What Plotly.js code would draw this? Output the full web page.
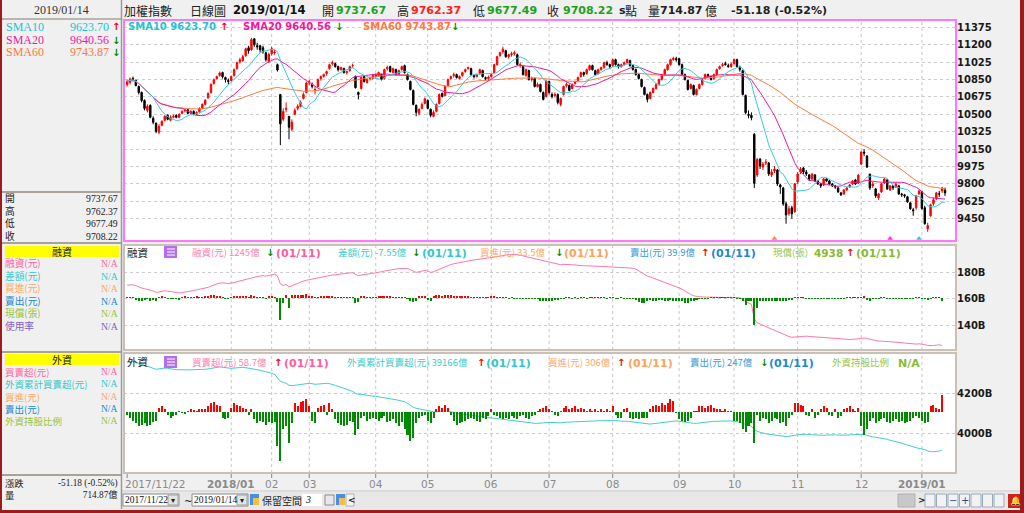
<!DOCTYPE html>
<html><head><meta charset="utf-8">
<script src="https://cdn.plot.ly/plotly-3.0.1.min.js"></script>
<style>html,body{margin:0;padding:0;background:#f0f0f0;overflow:hidden}#chart{width:1024px;height:513px}</style>
</head><body><div id="chart"></div>
<script>
// ---------- trading calendar (TWSE) ----------
const startDate = '2017-11-22', endDate = '2019-01-14';
const holidays = ['2018-01-01','2018-02-13','2018-02-14','2018-02-15','2018-02-16','2018-02-19','2018-02-20','2018-02-28',
  '2018-04-04','2018-04-05','2018-04-06','2018-05-01','2018-06-18','2018-09-24','2018-10-10','2018-12-31','2019-01-01'];
const makeupDays = ['2018-03-31','2018-12-22'];

// ---------- daily OHLC of 加權指數 ----------
const openP = [
10800,10820,10860,10840,10780,10720,10640,
10540,10590,10460,10410,10320,10390,10440,10490,10440,10470,10490,10470,10510,10535,10545,10510,10530,10500,10525,10565,10600,
10664,10720,10810,10860,10890,10920,10870,10840,10840,10890,10960,11030,11040,11090,11170,11150,11260,11190,11190,11170,11120,11030,
11110,11120,11000,10700,10450,10550,10480,10350,10500,10560,10580,10660,10720,
10820,10800,10740,10780,10860,10880,10910,10960,11010,11010,10980,10950,10960,10920,10940,10990,10880,10720,10760,10880,10820,10860,10860,
10880,10890,10900,10860,10960,10980,10920,10950,10900,10950,10990,10900,10830,10740,10590,10510,10560,10610,
10640,10550,10480,10530,10610,10710,10690,10790,10860,10890,10900,10860,10890,10930,10960,10960,10890,10880,10910,10940,10870,10860,
10880,10920,11000,11090,11130,11140,11080,11100,11110,11100,10990,10980,10890,10940,10850,10860,10780,10800,10720,10680,
10830,10700,10690,10700,10600,10700,10790,10790,10760,10810,10840,10880,10920,10910,10950,10990,10940,10910,10950,10970,11020,11000,
10990,11050,11000,10980,11000,11020,11040,10990,10950,10900,10850,10770,10700,10660,10720,10760,10800,10850,10900,10950,11000,11050,11060,
11060,11000,10900,10840,10760,10790,10700,10760,10800,10860,10900,10880,10860,10900,10960,10990,11010,10990,10980,
11010,11050,10970,10940,10690,10500,10490,10300,9890,10050,9970,10010,10010,9890,9930,9940,9790,9760,9600,9500,9560,9520,
9820,9920,9960,9920,9890,9850,9890,9830,9800,9790,9850,9830,9800,9780,9760,9710,9700,9740,9770,9800,9840,9810,
10000,10120,10080,9900,9780,9750,9660,9720,9810,9840,9740,9780,9770,9780,9700,9690,9670,9610,9540,9560,9700,
9720,9560,9350,9480,9600,9650,9700,9730,9737.67];
const highP = [
10850,10870,10880,10850,10790,10730,10650,
10600,10600,10480,10420,10400,10440,10490,10500,10490,10500,10500,10510,10540,10560,10550,10540,10540,10530,10570,10610,10650,
10720,10810,10860,10890,10930,10930,10880,10860,10890,10960,11030,11070,11100,11170,11190,11270,11265,11220,11200,11190,11130,11120,
11180,11150,11010,10700,10560,10620,10480,10450,10560,10600,10640,10720,10830,
10850,10820,10780,10860,10890,10910,10940,11010,11040,11020,10990,10980,10970,10940,10990,11010,10890,10730,10880,10890,10860,10880,10900,
10910,10930,10910,10960,10990,10990,10970,10960,10950,10990,11000,10910,10840,10750,10600,10560,10620,10670,
10650,10560,10540,10610,10710,10720,10790,10860,10890,10920,10910,10890,10930,10960,10980,10970,10900,10910,10960,10950,10880,10890,
10910,11010,11090,11130,11180,11150,11110,11130,11140,11110,11020,10990,10960,10950,10880,10870,10820,10810,10730,10840,
10840,10720,10720,10710,10670,10790,10820,10800,10810,10840,10880,10930,10930,10960,11000,11000,10950,10960,10980,11030,11040,11010,
11060,11060,11010,11010,11030,11060,11050,11000,10960,10910,10860,10780,10710,10730,10770,10810,10860,10910,10960,11010,11060,11080,11080,
11070,11010,10910,10850,10810,10800,10760,10810,10860,10910,10910,10890,10910,10960,10990,11020,11030,11010,11020,
11060,11060,10990,10950,10700,10540,10520,10310,10060,10060,10020,10050,10020,9950,9980,9950,9800,9770,9620,9580,9580,9810,
9920,9970,9970,9940,9900,9910,9900,9840,9810,9860,9860,9840,9810,9790,9770,9720,9750,9770,9800,9840,9850,9900,
10130,10150,10090,9900,9820,9760,9710,9810,9860,9850,9790,9790,9810,9790,9710,9700,9680,9620,9560,9690,9740,
9730,9580,9410,9600,9660,9720,9730,9770,9762.37];
const lowP = [
10780,10800,10830,10780,10700,10620,10540,
10520,10460,10400,10310,10300,10380,10430,10440,10430,10460,10460,10460,10500,10520,10500,10500,10490,10490,10510,10550,10590,
10660,10710,10800,10850,10880,10860,10820,10800,10830,10880,10950,11010,11030,11080,11110,11140,11180,11150,11120,11110,11030,11020,
11090,11100,10930,10190,10430,10520,10250,10330,10490,10540,10570,10650,10710,
10790,10760,10700,10770,10840,10870,10890,10950,10990,10970,10930,10940,10910,10900,10930,10970,10760,10650,10750,10820,10810,10840,10850,
10870,10880,10840,10850,10940,10920,10910,10890,10890,10940,10910,10840,10740,10590,10480,10490,10550,10600,
10550,10470,10470,10520,10600,10670,10680,10780,10850,10870,10860,10850,10880,10920,10950,10890,10860,10870,10900,10870,10840,10840,
10870,10910,10990,11080,11110,11070,11060,11080,11090,10990,10970,10890,10880,10840,10830,10770,10770,10720,10640,10670,
10700,10660,10670,10600,10580,10690,10770,10730,10750,10800,10830,10870,10880,10900,10940,10940,10890,10900,10940,10960,10990,10960,
10980,10990,10960,10970,10990,11010,10980,10940,10890,10850,10770,10690,10620,10650,10710,10750,10790,10840,10890,10940,10990,11040,11030,
10990,10890,10840,10740,10750,10690,10690,10750,10790,10850,10870,10840,10850,10890,10950,10980,10990,10970,10970,
11000,10970,10930,10690,10500,10460,10440,9760,9870,9950,9940,9990,9880,9870,9910,9780,9700,9580,9400,9480,9450,9510,
9800,9900,9900,9880,9830,9840,9820,9790,9760,9780,9820,9790,9770,9750,9710,9680,9690,9730,9760,9790,9790,9800,
9990,10080,9960,9740,9760,9660,9640,9710,9800,9740,9730,9740,9760,9690,9670,9660,9610,9540,9480,9540,9690,
9540,9390,9319,9470,9580,9640,9670,9710,9677.49];
const closeP = [
10830,10855,10850,10790,10720,10640,10560,
10580,10470,10420,10330,10380,10430,10480,10450,10470,10480,10470,10500,10530,10540,10510,10530,10500,10520,10560,10600,10643,
10711,10802,10849,10880,10916,10879,10850,10830,10880,10950,11020,11050,11080,11160,11140,11253,11200,11180,11150,11130,11050,11104,
11160,11127,10946,10404,10528,10560,10370,10421,10540,10582,10620,10700,10815,
10830,10780,10750,10850,10880,10900,10930,11000,11020,10980,10950,10970,10920,10930,10980,10990,10768,10700,10870,10830,10850,10860,10890,
10900,10920,10850,10950,10970,10930,10960,10900,10940,10980,10920,10850,10750,10600,10520,10550,10600,10657,
10560,10490,10520,10600,10700,10680,10780,10850,10880,10900,10870,10880,10920,10950,10970,10900,10880,10900,10950,10880,10860,10874,
10900,11000,11080,11120,11156,11080,11100,11110,11120,11000,11000,10900,10950,10850,10860,10780,10800,10730,10650,10836,
10720,10680,10700,10620,10660,10780,10800,10740,10800,10830,10870,10920,10900,10950,10990,10950,10900,10950,10970,11020,11000,10980,
11050,11000,10980,11000,11020,11050,10990,10950,10900,10860,10780,10700,10650,10720,10760,10800,10850,10900,10950,11000,11050,11063,11050,
11000,10900,10850,10750,10800,10700,10750,10800,10850,10900,10880,10850,10900,10950,10980,11000,11000,10980,11006,
11051,10980,10950,10700,10517,10490,10466,9806,10046,9980,10000,10020,9900,9920,9950,9800,9770,9600,9489,9550,9500,9802,
9900,9950,9920,9900,9850,9900,9830,9800,9780,9850,9830,9800,9780,9770,9720,9690,9740,9760,9790,9830,9800,9888,
10120,10110,9970,9760,9800,9680,9700,9800,9850,9750,9780,9760,9800,9700,9690,9680,9620,9550,9530,9680,9727,
9554,9400,9382,9590,9640,9710,9700,9759.4,9708.22];

// ---------- 融資餘額 (億) ----------
const marginBal = [
1703,1704,1705,1699,1689,1681,1676,
1672,1664,1658,1648,1651,1656,1660,1657,1655,1651,1648,1643,1646,1651,1655,1658,1662,1667,1671,1674,1680,
1686,1696,1706,1712,1718,1721,1718,1715,1718,1724,1730,1735,1741,1747,1751,1759,1765,1768,1772,1775,1771,1776,
1782,1786,1774,1712,1700,1708,1690,1700,1710,1718,1726,1734,1740,
1745,1750,1752,1755,1760,1765,1770,1775,1780,1782,1785,1788,1790,1792,1795,1798,1785,1775,1780,1785,1788,1790,1792,
1795,1800,1805,1810,1815,1820,1822,1825,1828,1830,1832,1830,1820,1810,1800,1805,1810,1815,
1810,1800,1805,1815,1825,1830,1840,1850,1860,1865,1870,1875,1880,1885,1890,1892,1895,1898,1900,1902,1905,1908,
1910,1915,1920,1925,1930,1932,1935,1936,1938,1935,1930,1925,1920,1915,1910,1905,1900,1895,1890,1885,
1880,1875,1870,1860,1858,1860,1862,1860,1858,1855,1855,1852,1850,1850,1848,1848,1846,1845,1845,1844,1843,1842,
1841,1840,1839,1839,1838,1837,1835,1832,1825,1812,1797,1782,1772,1765,1757,1749,1742,1735,1727,1719,1712,1702,1692,
1682,1672,1657,1642,1632,1622,1617,1615,1613,1612,1611,1610,1609,1609,1609,1609,1609,1610,1611,
1611,1609,1607,1597,1577,1567,1557,1447,1417,1407,1397,1387,1377,1367,1357,1347,1337,1327,1317,1312,1307,1309,
1312,1315,1317,1315,1313,1311,1309,1307,1305,1303,1301,1299,1297,1295,1293,1291,1289,1289,1290,1291,1292,1293,
1297,1302,1297,1289,1285,1281,1277,1277,1277,1275,1273,1271,1269,1267,1265,1263,1261,1257,1253,1255,1257,
1255,1251,1245,1243,1244,1247,1249,1245,null];
// ---------- 融資差額 (億) ----------
const marginChg = [
3,2,2,-6,-10,-8,-5,
-4,-8,-6,-10,3,5,4,-3,-2,-4,-3,-5,3,5,4,3,4,5,4,3,6,
6,10,10,6,6,3,-3,-3,3,6,6,5,6,6,4,8,6,3,4,3,-4,5,
6,4,-12,-65,-15,8,-30,8,8,10,10,10,12,
6,6,3,4,6,6,6,6,6,3,4,4,3,3,4,4,-15,-12,6,6,4,3,3,
4,6,6,6,6,6,3,4,4,3,3,-3,-10,-12,-10,5,6,6,
-6,-10,5,10,10,6,10,10,10,6,6,6,6,6,6,3,4,4,3,3,4,4,
5,6,4,3,3,2,-2,2,-2,-2,-2,-2,-2,-2,-3,-3,-4,-8,-10,-10,
-10,-10,-5,-5,-2,-3,2,3,-2,2,-2,2,3,-2,2,3,2,2,3,2,-2,2,
2,-2,-2,2,-2,-2,-2,-3,-7,-13,-15,-15,-10,-7,-8,-8,-7,-7,-8,-8,-7,-10,-10,
-10,-10,-15,-15,-10,-10,-5,-2,-2,-2,-2,2,2,2,2,2,2,2,2,
2,-2,-2,-10,-20,-10,-10,-80,-30,-10,-10,-10,-10,-10,-10,-10,-10,-10,-10,-5,-5,2,
3,3,2,-2,-2,-2,-2,-2,-2,-2,-2,-2,-2,-2,-2,-2,-2,2,2,2,2,2,
4,5,-5,-8,-4,-4,-4,2,2,-2,-2,-2,-2,-2,-2,-2,-2,-4,-4,2,2,
-2,-4,-6,-2,2,3,2,-7.55,null];
// ---------- 外資買賣超 (億) ----------
const foreignNet = [
-10,-20,-30,-40,-50,-45,-40,
-50,-45,-35,-30,15,20,10,-10,-20,-15,-10,5,-5,-8,5,10,8,5,10,12,10,
20,30,35,25,20,-20,-25,-20,15,30,25,20,15,10,-10,10,-25,-40,-30,-35,-45,-35,
-40,-35,-120,-170,-60,-50,-110,-40,30,20,35,40,45,
20,-30,-40,15,20,25,-10,30,10,-25,-40,-45,-50,-45,-30,-35,-80,-60,-20,-15,-30,-25,-20,
-25,-30,-20,-15,-35,-30,-25,-40,-50,-35,-60,-80,-100,-90,-40,-20,-15,-10,
-30,-40,-20,10,20,15,25,15,-10,-30,-45,-40,-35,-30,-25,-20,-25,-30,-35,-20,-25,-15,
10,-10,-15,-20,-25,-20,-25,-15,-20,-25,-15,-10,-20,-25,-15,-10,5,10,15,20,
10,5,-10,-15,5,15,20,10,15,20,10,15,10,5,10,5,10,5,10,5,10,5,
20,-10,-20,-20,10,15,-20,-25,-20,-25,-20,-20,-20,10,20,25,20,30,25,30,45,40,-5,
-25,-30,-35,-30,-20,5,5,20,20,15,20,25,15,10,10,5,10,5,5,
-30,-30,-40,-60,-70,-50,-40,-110,-10,-30,-20,-25,-40,-30,-20,-25,-40,-35,-50,-20,-10,30,
30,25,20,-10,-15,10,-20,-10,10,20,15,-10,-15,10,-20,-15,10,15,20,10,5,15,
-50,-80,-60,-30,-20,-40,-30,-25,-20,-35,-40,-30,-25,-35,-30,-40,-35,-30,-20,-15,-20,
-30,-40,-35,20,25,15,10,58.7,null];
// ---------- 外資累計買賣超 (億) ----------
const foreignCum = [
43560,43580,43600,43550,43500,43450,43400,
43350,43300,43250,43200,43220,43250,43260,43250,43220,43200,43180,43180,43170,43160,43160,43170,43180,43180,43190,43200,43200,
43220,43250,43280,43300,43320,43300,43280,43260,43250,43260,43280,43300,43300,43280,43260,43250,43220,43180,43150,43120,43080,43050,
43000,42950,42800,42600,42550,42500,42400,42380,42400,42420,42440,42460,42500,
42500,42480,42450,42460,42480,42500,42500,42480,42450,42400,42350,42300,42250,42200,42150,42100,42000,41950,41950,41920,41900,41880,41860,
41850,41820,41800,41780,41750,41720,41700,41680,41650,41620,41580,41500,41400,41300,41250,41220,41200,41180,
41150,41100,41080,41080,41100,41120,41120,41100,41080,41050,41000,40980,40950,40920,40900,40880,40860,40840,40820,40800,40780,40760,
40750,40740,40730,40720,40700,40680,40660,40640,40620,40600,40580,40560,40540,40520,40500,40500,40500,40500,40520,40540,
40550,40550,40540,40520,40520,40530,40550,40560,40580,40580,40580,40590,40600,40600,40610,40610,40620,40620,40630,40630,40640,40640,
40650,40640,40620,40600,40600,40600,40580,40560,40540,40520,40500,40480,40460,40460,40480,40500,40520,40540,40560,40580,40600,40620,40620,
40600,40580,40550,40520,40500,40500,40500,40520,40540,40560,40580,40600,40600,40600,40610,40620,40620,40620,40620,
40600,40580,40550,40500,40450,40400,40350,40200,40100,40050,40000,39980,39950,39930,39920,39900,39880,39860,39840,39850,39860,39900,
39920,39940,39950,39940,39930,39920,39900,39900,39900,39900,39910,39920,39920,39920,39910,39900,39900,39910,39920,39930,39940,39950,
39960,39950,39900,39850,39820,39800,39780,39760,39750,39700,39650,39600,39580,39550,39500,39450,39400,39350,39300,39280,39250,
39220,39180,39120,39080,39080,39100,39108,39166,null];
// 均線交叉標記 (index of day, series)
const crossIdx = [224, 264, 274];
const crossColor = ['#ff8040', '#ff33cc', '#33cccc'];

// ---------- build calendar ----------
const hol = new Set(holidays), mk = new Set(makeupDays);
const dates = [];
for (let d = new Date(startDate + 'T00:00:00Z'); d <= new Date(endDate + 'T00:00:00Z'); d.setUTCDate(d.getUTCDate() + 1)) {
  const s = d.toISOString().slice(0, 10), wd = d.getUTCDay();
  if ((wd > 0 && wd < 6 && !hol.has(s)) || mk.has(s)) dates.push(s);
}
const N = Math.min(dates.length, closeP.length);
const idx = Array.from({length: N}, (_, i) => i);

function sma(a, n) { return a.map((_, i) => { const s = Math.max(0, i - n + 1); let t = 0; for (let k = s; k <= i; k++) t += a[k]; return t / (i - s + 1); }); }
const ma10 = sma(closeP, 10), ma20 = sma(closeP, 20), ma60 = sma(closeP, 60);

// ---------- month labels ----------
const monthPos = [], monthTxt = [], monthBold = [];
for (let i = 0; i < N; i++) {
  const ym = dates[i].slice(0, 7);
  if (i === 0) { monthPos.push(0); monthTxt.push(dates[0].replace(/-/g, '/')); monthBold.push(false); continue; }
  if (ym !== dates[i-1].slice(0, 7)) {
    const m = dates[i].slice(5, 7);
    if (ym === '2017-12') continue;
    if (m === '01') { monthPos.push(i); monthTxt.push(dates[i].slice(0, 4) + '/01'); monthBold.push(true); }
    else { monthPos.push(i); monthTxt.push(m); monthBold.push(false); }
  }
}
monthPos[1] += 8;   // 2018/01 label is pushed right, clear of the start date label

// ---------- geometry helpers ----------
const W = 1024, H = 513;
const X = p => p / W, Y = p => 1 - p / H;
const SANS = 'DejaVu Sans, Noto Sans CJK TC, sans-serif';
const CJK = 'Noto Sans CJK TC, DejaVu Sans, sans-serif';
const SERIF = 'Liberation Serif, Noto Sans CJK TC, serif';
const shapes = [], anns = [];
function R(x0, y0, x1, y1, fill, line, lw, layer) { shapes.push({type:'rect', xref:'paper', yref:'paper', x0:X(x0), x1:X(x1), y0:Y(y1), y1:Y(y0), fillcolor: fill || 'rgba(0,0,0,0)', line:{color: line || 'rgba(0,0,0,0)', width: lw || 0}, layer: layer || 'above'}); }
function L(x0, y0, x1, y1, c, w, dash, layer) { shapes.push({type:'line', xref:'paper', yref:'paper', x0:X(x0), x1:X(x1), y0:Y(y0), y1:Y(y1), line:{color:c, width:w || 1, dash: dash || 'solid'}, layer: layer || 'above'}); }
function T(text, x, y, o) { o = o || {}; anns.push({xref:'paper', yref:'paper', x:X(x), y:Y(y), text:text, showarrow:false, xanchor:o.xa || 'left', yanchor:'middle', align:o.al || 'left', borderpad:0, font:{family:o.f || SANS, size:o.s || 11, color:o.c || '#222', weight: o.b ? 'bold' : 'normal', style: o.i ? 'italic' : 'normal'}}); }
const col = (t, c) => '<span style="color:' + c + '">' + t + '</span>';

const RED = '#ff0000', GRN = '#008a00';
const C10 = '#1ec3d3', C20 = '#f0189c', C60 = '#ff7a3c';

// ---------- traces ----------
const traces = [];
traces.push({type:'candlestick', x:idx, open:openP, high:highP, low:lowP, close:closeP, xaxis:'x', yaxis:'y',
  increasing:{line:{color:RED, width:1}, fillcolor:RED}, decreasing:{line:{color:'#000000', width:1}, fillcolor:'#000000'},
  whiskerwidth:0, hoverinfo:'skip', showlegend:false});
traces.push({type:'scatter', mode:'lines', x:idx, y:ma60, line:{color:C60, width:1}, xaxis:'x', yaxis:'y', hoverinfo:'skip'});
traces.push({type:'scatter', mode:'lines', x:idx, y:ma20, line:{color:C20, width:1}, xaxis:'x', yaxis:'y', hoverinfo:'skip'});
traces.push({type:'scatter', mode:'lines', x:idx, y:ma10, line:{color:'#33ccdd', width:1}, xaxis:'x', yaxis:'y', hoverinfo:'skip'});
traces.push({type:'scatter', mode:'markers', x:crossIdx, y:crossIdx.map(() => 9250), marker:{symbol:'triangle-up', size:5, color:crossColor}, xaxis:'x', yaxis:'y', hoverinfo:'skip'});
// panel 2
traces.push({type:'bar', x:idx, y:marginChg, marker:{color:marginChg.map(v => v >= 0 ? RED : GRN)}, width:0.7, xaxis:'x2', yaxis:'y4', hoverinfo:'skip'});
traces.push({type:'scatter', mode:'lines', x:idx, y:marginBal.map(v => v == null ? null : v / 10), line:{color:'#ff77aa', width:1}, xaxis:'x2', yaxis:'y2', hoverinfo:'skip'});
// panel 3
traces.push({type:'bar', x:idx, y:foreignNet, marker:{color:foreignNet.map(v => v >= 0 ? RED : GRN)}, width:0.7, xaxis:'x3', yaxis:'y5', hoverinfo:'skip'});
traces.push({type:'scatter', mode:'lines', x:idx, y:foreignCum.map(v => v == null ? null : v / 10), line:{color:'#44cccc', width:1}, xaxis:'x3', yaxis:'y3', hoverinfo:'skip'});

// ---------- frames & grid ----------
const xr = [-1.1, 286.8];
const panels = [[20, 241], [245, 350], [353, 473]];
monthPos.forEach((p, k) => {
  if (k > 0) panels.forEach(([a, b]) => shapes.push({type:'line', xref:'x', yref:'paper', x0:p, x1:p, y0:Y(b), y1:Y(a), line:{color:'#c8c8c8', width:1, dash:'dot'}, layer:'below'}));
  shapes.push({type:'line', xref:'x', yref:'paper', x0:p, x1:p, y0:Y(473), y1:Y(478), line:{color:'#888', width:1}, layer:'above'});
});
monthPos.forEach((p, k) => anns.push({xref:'x', yref:'paper', x:p, y:Y(484), text:monthTxt[k], showarrow:false, xanchor: k === 0 ? 'left' : 'center', yanchor:'middle', xshift: k === 0 ? -4 : 0,
  font:{family:SANS, size:10.5, color:'#8a8a8a', weight: monthBold[k] ? 'bold' : 'normal'}}));

R(124, 20, 956, 241, null, '#ff77ff', 2);
R(124, 245, 956, 350, null, '#c9c0b8', 2);
R(124, 353, 956, 473, null, '#c9c0b8', 2);

// ---------- left info panel ----------
L(121.5, 0, 121.5, 509, '#9a9a9a', 1.5);
L(2, 19, 121, 19, '#a9a29a', 1.5);
T('2019/01/14', 61, 10, {xa:'center', f:SERIF, s:12, c:'#333'});
T('SMA10', 5, 27, {f:SERIF, s:12, c:C10}); T('9623.70', 110, 27, {xa:'right', f:SERIF, s:12, c:C10}); T('↑', 111, 27, {b:true, c:RED, s:10});
T('SMA20', 5, 40, {f:SERIF, s:12, c:C20}); T('9640.56', 110, 40, {xa:'right', f:SERIF, s:12, c:C20}); T('↓', 111, 40, {b:true, c:GRN, s:10});
T('SMA60', 5, 52, {f:SERIF, s:12, c:C60}); T('9743.87', 110, 52, {xa:'right', f:SERIF, s:12, c:C60}); T('↓', 111, 52, {b:true, c:GRN, s:10});
L(2, 192, 121, 192, '#a9a29a', 2);
T('開<br>高<br>低<br>收', 4, 217, {f:CJK, s:9.75, c:'#222'});
T('9737.67<br>9762.37<br>9677.49<br>9708.22', 119, 217, {xa:'right', al:'right', f:SERIF, s:9.75, c:'#222'});
L(2, 243, 121, 243, '#a9a29a', 2);
R(5, 246, 119, 257, '#ffff00');
T('融資', 62, 251.5, {xa:'center', f:CJK, s:10, c:'#222'});
const mRows = [['融資(元)','#ff66a0'],['差額(元)','#33c8cc'],['買進(元)','#ffa766'],['賣出(元)','#2088d0'],['現償(張)','#99c440'],['使用率','#8060c0']];
T(mRows.map(r => col(r[0], r[1])).join('<br>'), 4, 294.5, {f:CJK, s:9.7});
T(mRows.map(r => col('N/A', r[1])).join('<br>'), 119, 294.5, {xa:'right', al:'right', f:SERIF, s:9.7});
L(2, 352, 121, 352, '#a9a29a', 2);
R(5, 354, 119, 365, '#ffff00');
T('外資', 62, 359.5, {xa:'center', f:CJK, s:10, c:'#222'});
const fRows = [['買賣超(元)','#ff66a0'],['外資累計買賣超(元)','#33c8cc'],['買進(元)','#ffa766'],['賣出(元)','#2088d0'],['外資持股比例','#99c440']];
T(fRows.map(r => col(r[0], r[1])).join('<br>'), 4, 396.5, {f:CJK, s:9.5});
T(fRows.map(r => col('N/A', r[1])).join('<br>'), 119, 396.5, {xa:'right', al:'right', f:SERIF, s:9.5});
L(2, 475, 121, 475, '#a9a29a', 2);
T('漲跌<br>量', 4, 489, {f:CJK, s:9.3});
T('-51.18 (-0.52%)<br>714.87億', 119, 489, {xa:'right', al:'right', f:SERIF, s:9.3});

// ---------- header line ----------
T('加權指數', 123, 10, {f:CJK, s:12}); T('日線圖', 189, 10, {f:CJK, s:12});
T('2019/01/14', 232, 10, {b:true, s:11.5, c:'#111'});
T('開', 321, 10, {f:CJK, s:12}); T('9737.67', 335, 10, {b:true, s:11, c:'#20a020'});
T('高', 396, 10, {f:CJK, s:12}); T('9762.37', 410, 10, {b:true, s:11, c:'#ff2020'});
T('低', 472, 10, {f:CJK, s:12}); T('9677.49', 486, 10, {b:true, s:11, c:'#20a020'});
T('收', 546, 10, {f:CJK, s:12}); T('9708.22', 562, 10, {b:true, s:11, c:'#20a020'});
T('s', 618, 10, {b:true, s:11, c:'#222'}); T('點', 624, 10, {f:CJK, s:12});
T('量', 647, 10, {f:CJK, s:12}); T('714.87', 659, 10, {b:true, s:11, c:'#222'}); T('億', 704, 10, {f:CJK, s:12});
T('-51.18 (-0.52%)', 730, 10, {b:true, s:11, c:'#222'});

// SMA legend inside main chart
T('SMA10 9623.70', 127, 27, {b:true, s:10, c:C10}); T('↑', 219, 27, {b:true, s:10, c:RED});
T('SMA20 9640.56', 242, 27, {b:true, s:10, c:C20}); T('↓', 334, 27, {b:true, s:10, c:GRN});
T('SMA60 9743.87', 362, 27, {b:true, s:10, c:C60}); T('↓', 450, 27, {b:true, s:10, c:GRN});

// panel headers
function icon(y) { R(164, y, 177, y + 12, '#b46ee6'); [y + 3, y + 6, y + 9].forEach(yy => L(167, yy, 175, yy, '#ffffff', 1)); }
T('融資', 126, 252, {f:CJK, s:10.5}); icon(246);
T('融資(元) 1245億', 191, 252, {f:CJK, s:9.5, c:'#ff7fb0'}); T('↓', 265, 252, {b:true, s:10, c:GRN}); T('(01/11)', 275, 253, {b:true, s:11, c:'#ff5c9c'});
T('差額(元) -7.55億', 337, 252, {f:CJK, s:9.5, c:'#40cccc'}); T('↓', 411, 252, {b:true, s:10, c:GRN}); T('(01/11)', 421, 253, {b:true, s:11, c:'#33c8cc'});
T('買進(元) 33.5億', 479, 252, {f:CJK, s:9.5, c:'#ffa766'}); T('↓', 554, 252, {b:true, s:10, c:GRN}); T('(01/11)', 563, 253, {b:true, s:11, c:'#ffa25a'});
T('賣出(元) 39.9億', 629, 252, {f:CJK, s:9.5, c:'#3a98d8'}); T('↑', 700, 252, {b:true, s:10, c:RED}); T('(01/11)', 710, 253, {b:true, s:11, c:'#2088d0'});
T('現償(張)', 772, 252, {f:CJK, s:9.5, c:'#99c440'}); T('4938', 813, 253, {b:true, s:10.5, c:'#88bb30'}); T('↑', 845, 252, {b:true, s:10, c:RED}); T('(01/11)', 855, 253, {b:true, s:11, c:'#88bb30'});

T('外資', 126, 361, {f:CJK, s:10.5}); icon(356);
T('買賣超(元) 58.7億', 191, 362, {f:CJK, s:9.5, c:'#ff7fb0'}); T('↑', 273, 362, {b:true, s:10, c:RED}); T('(01/11)', 283, 363, {b:true, s:11, c:'#ff5c9c'});
T('外資累計買賣超(元) 39166億', 346, 362, {f:CJK, s:9.5, c:'#40cccc'}); T('↑', 476, 362, {b:true, s:10, c:RED}); T('(01/11)', 485, 363, {b:true, s:11, c:'#33c8cc'});
T('買進(元) 306億', 547, 362, {f:CJK, s:9.5, c:'#ffa766'}); T('↑', 616, 362, {b:true, s:10, c:RED}); T('(01/11)', 627, 363, {b:true, s:11, c:'#ffa25a'});
T('賣出(元) 247億', 689, 362, {f:CJK, s:9.5, c:'#3a98d8'}); T('↓', 759, 362, {b:true, s:10, c:GRN}); T('(01/11)', 768, 363, {b:true, s:11, c:'#2088d0'});
T('外資持股比例', 831, 362, {f:CJK, s:9.5, c:'#99c440'}); T('N/A', 897, 363, {b:true, s:11, c:'#88bb30'});

// ---------- bottom toolbar ----------
L(122, 491, 1020, 491, '#c8c8c8', 1);
R(122, 492, 1020, 510, '#e8e8e8', null, 0, 'below');
R(123, 494, 179, 506, '#ffffff', '#8a8a8a', 1); R(168, 495, 178, 505, '#e4e4e4', '#a0a0a0', 1);
T('2017/11/22', 124, 500, {f:SERIF, s:9.5, c:'#111'}); T('▾', 170, 500, {s:8, c:'#222'});
T('~', 183, 501, {s:10, c:'#222'});
R(192, 494, 248, 506, '#ffffff', '#8a8a8a', 1); R(237, 495, 247, 505, '#e4e4e4', '#a0a0a0', 1);
T('2019/01/14', 193, 500, {f:SERIF, s:9.5, c:'#111'}); T('▾', 239, 500, {s:8, c:'#222'});
R(250, 494, 259, 505, '#4a8ee0'); R(253, 498, 259, 505, '#f0c040');
T('保留空間', 261, 500, {f:CJK, s:10, c:'#222'});
R(302, 494, 322, 506, '#ffffff'); T('3', 304, 499, {f:SERIF, s:10, c:'#111', i:true});
R(325, 495, 334, 505, '#e8e8e8', '#8a8a8a', 1);
R(336, 494, 345, 505, '#4a8ee0'); R(339, 498, 345, 505, '#f0c040');
R(346, 494, 354, 506, '#f4f4f4', '#b0b0b0', 1); T('<', 347, 500, {b:true, s:9, c:'#222'});
R(898, 494, 915, 507, '#c8c8c8', '#b0b0b0', 1);
T('>', 917, 500, {b:true, s:9, c:'#222'});
for (let k = 0; k < 7; k++) R(925 + k * 11.5, 494, 935 + k * 11.5, 507, '#f2f2f2', '#9ab', 1);
T('−', 948, 500, {s:10, c:'#305090'}); T('+', 960, 500, {s:10, c:'#305090'});
R(1008, 494, 1020, 508, '#d02020'); T('🔔', 1009, 501, {s:9, c:'#ffcc00'});

// outer frame
R(0, 0, 2, 513, '#9b1c1c'); R(1020, 0, 1024, 513, '#9b1c1c'); R(0, 510, 1024, 513, '#9b1c1c');

const yTicks = [9450, 9625, 9800, 9975, 10150, 10325, 10500, 10675, 10850, 11025, 11200, 11375];
const axX = (anchor) => ({domain:[X(124), X(956)], range:xr, anchor:anchor, showticklabels:false, ticks:'', showgrid:false, zeroline:false, showline:false, fixedrange:true, rangeslider:{visible:false}});
const tickFont = {family:'DejaVu Sans', size:10, weight:'bold', color:'#1a1a1a'};
const layout = {
  width:W, height:H, margin:{l:0, r:0, t:0, b:0}, paper_bgcolor:'#f0f0f0', plot_bgcolor:'#ffffff', showlegend:false, bargap:0,
  xaxis: axX('y'), xaxis2: axX('y2'), xaxis3: axX('y3'),
  yaxis: {domain:[Y(241), Y(20)], range:[9226, 11449], side:'right', anchor:'x', tickvals:yTicks, ticktext:yTicks.map(String), tickfont:tickFont,
    showgrid:true, gridcolor:'#cccccc', griddash:'dot', gridwidth:1, zeroline:false, ticks:'', fixedrange:true},
  yaxis2: {domain:[Y(350), Y(245)], range:[121, 200.8], side:'right', anchor:'x2', tickvals:[140, 160, 180], ticktext:['140B','160B','180B'], tickfont:tickFont,
    showgrid:true, gridcolor:'#cccccc', griddash:'dot', zeroline:false, ticks:'', fixedrange:true},
  yaxis3: {domain:[Y(473), Y(353)], range:[3801.5, 4401.5], side:'right', anchor:'x3', tickvals:[4000, 4200], ticktext:['4000B','4200B'], tickfont:tickFont,
    showgrid:true, gridcolor:'#cccccc', griddash:'dot', zeroline:false, ticks:'', fixedrange:true},
  yaxis4: {overlaying:'y2', anchor:'x2', range:[-156, 159], visible:false, fixedrange:true},
  yaxis5: {overlaying:'y3', anchor:'x3', range:[-213.5, 206.5], visible:false, fixedrange:true},
  shapes: shapes, annotations: anns
};
Plotly.newPlot('chart', traces, layout, {staticPlot:true, displayModeBar:false});
</script></body></html>
